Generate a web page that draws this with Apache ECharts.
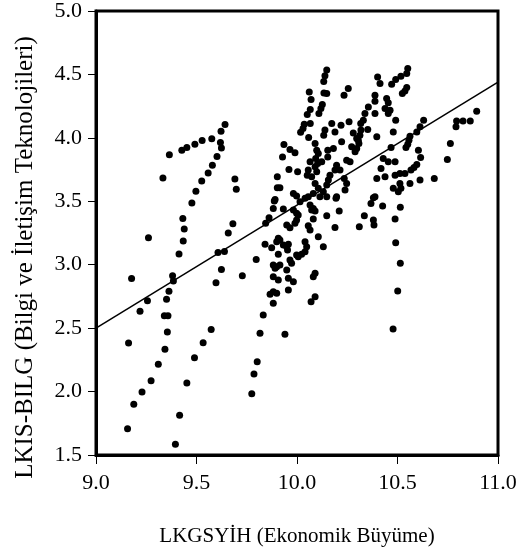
<!DOCTYPE html>
<html>
<head>
<meta charset="utf-8">
<script src="https://cdn.jsdelivr.net/npm/echarts@6/dist/echarts.min.js"></script>
<style>
html,body{margin:0;padding:0;background:#fff;}
#chart{width:522px;height:557px;}
</style>
</head>
<body>
<div id="chart"></div>
<script>
// Axis settings / labels
const xTitle = "LKGSYİH (Ekonomik Büyüme)";
const yTitle = "LKIS-BILG (Bilgi ve İletişim Teknolojileri)";
const xTicks = [9.0, 9.5, 10.0, 10.5, 11.0];
const yTicks = [1.5, 2.0, 2.5, 3.0, 3.5, 4.0, 4.5, 5.0];

// Fitted regression line end points
const fitX = [9.0, 11.0];
const fitY = [2.50, 4.44];

// Observations: LKGSYİH (x) and LKIS-BILG (y)
const obsX = [
 9.642,9.622,9.619,9.624,9.576,9.528,9.492,9.452,9.427,9.365,9.333,9.602,9.579,9.558,9.526,9.497,9.477,9.432,9.439,9.434,9.413,9.261,9.691,9.698,9.681,9.658,9.607,9.639,9.624,9.728,9.797,9.381,9.177,
 9.385,9.363,9.351,9.256,9.219,9.340,9.358,9.355,9.162,9.343,9.310,9.274,9.229,9.188,9.157,9.416,9.395,9.452,9.490,9.533,9.573,9.597,
 9.816,9.940,9.802,9.786,9.775,
 10.148,10.139,10.133,10.061,10.134,10.070,10.126,10.119,10.109,10.066,10.051,10.036,10.066,10.030,10.018,10.139,10.133,10.058,10.090,10.098,10.106,10.093,10.103,10.090,10.098,9.935,9.965,9.990,9.928,10.153,10.153,10.065,10.123,9.960,10.003,10.056,10.051,9.902,9.902,9.915,9.982,9.998,10.073,10.090,10.106,10.081,10.131,10.114,10.148,9.891,
 10.148,10.401,10.413,10.471,10.491,10.517,10.546,10.551,10.524,10.537,10.546,10.255,10.234,10.388,10.388,10.355,10.338,10.330,10.317,10.388,10.446,10.454,10.438,10.454,10.463,10.491,10.259,10.219,10.173,10.318,10.313,10.297,10.280,10.352,10.189,10.397,10.479,10.222,10.181,
 10.272,10.297,10.308,10.289,10.305,10.247,10.264,10.197,10.189,10.429,10.454,10.488,10.468,10.418,10.397,10.438,10.488,10.512,10.537,10.512,10.517,10.504,10.479,10.388,10.197,10.239,10.247,10.235,10.214,10.164,10.156,10.148,
 10.630,10.612,10.596,10.562,10.557,10.551,10.542,10.604,10.615,10.596,10.582,10.567,10.562,10.612,10.683,10.748,10.763,10.791,10.794,10.826,10.862,10.894,
 9.887,9.882,9.932,10.015,10.040,10.056,9.982,9.998,10.006,10.065,10.081,10.090,10.073,10.148,10.081,9.861,9.844,9.949,9.965,9.990,9.998,10.056,10.065,10.106,10.131,9.907,9.899,9.915,9.841,9.874,9.932,9.949,9.957,10.040,10.048,10.040,10.023,10.006,9.998,9.907,9.953,9.965,9.973,9.882,9.899,9.915,9.891,9.949,9.882,9.907,9.957,9.982,10.090,10.081,9.957,9.866,9.882,9.899,9.882,10.090,10.070,9.832,
 10.194,10.380,10.368,10.426,10.514,10.210,10.189,10.335,10.380,10.383,10.310,10.488,10.491,10.514,10.501,10.478
];
const obsY = [
 4.106,4.053,3.964,3.921,3.992,3.979,3.950,3.924,3.903,3.866,3.683,3.854,3.785,3.722,3.659,3.580,3.486,3.365,3.281,3.186,3.084,3.212,3.675,3.594,3.323,3.250,3.097,3.105,2.963,2.913,3.042,2.913,2.892,
 2.871,2.790,2.727,2.716,2.634,2.597,2.597,2.469,2.382,2.333,2.215,2.086,1.996,1.900,1.707,1.813,1.584,2.068,2.267,2.385,2.490,2.857,
 2.460,2.452,2.235,2.139,1.982,
 4.534,4.489,4.444,4.362,4.354,4.302,4.263,4.231,4.192,4.224,4.184,4.108,4.113,4.074,4.045,4.061,4.021,4.003,3.956,3.903,3.877,3.838,3.798,3.772,3.732,3.948,3.909,3.882,3.850,3.903,3.850,3.811,3.811,3.751,3.732,3.746,3.706,3.693,3.606,3.606,3.562,3.541,3.693,3.641,3.602,3.562,3.575,3.535,3.535,3.515,
 4.350,4.480,4.428,4.423,4.460,4.486,4.507,4.546,4.350,4.370,4.397,4.389,4.336,4.336,4.289,4.244,4.192,4.139,4.113,4.192,4.310,4.276,4.231,4.192,4.218,4.139,4.126,4.100,4.113,4.061,4.021,3.995,4.039,4.066,4.047,4.008,4.047,3.969,3.917,
 3.929,3.917,3.956,3.890,3.982,3.824,3.811,3.785,3.746,3.838,3.811,3.811,3.924,3.759,3.680,3.693,3.706,3.719,3.719,3.641,3.602,3.575,3.602,3.535,3.535,3.588,3.641,3.680,3.746,3.706,3.667,3.628,
 4.139,4.087,4.047,4.013,3.982,3.950,3.924,3.903,3.846,3.790,3.767,3.746,3.641,3.667,3.680,3.830,3.956,4.087,4.132,4.132,4.132,4.210,
 3.502,3.444,3.439,3.496,3.523,3.535,3.431,3.405,3.391,3.470,3.444,3.423,3.431,3.386,3.360,3.370,3.326,3.313,3.291,3.326,3.352,3.307,3.273,3.220,3.142,3.208,3.181,3.194,3.161,3.134,3.155,3.142,3.161,3.181,3.142,3.102,3.082,3.063,3.076,3.082,3.116,3.037,3.011,2.998,2.984,2.998,2.972,2.958,2.906,2.880,2.893,2.866,2.932,2.906,2.801,2.767,2.787,2.775,2.696,2.748,2.709,2.604,
 3.523,3.528,3.483,3.462,3.452,3.423,3.294,3.386,3.352,3.313,3.299,3.360,3.173,3.011,2.793,2.494
];

const points = obsX.map((x, i) => [x, obsY[i]]);
const fitLine = fitX.map((x, i) => [x, fitY[i]]);

const FONT = "Liberation Serif";
const chart = echarts.init(document.getElementById('chart'), null, {renderer: 'canvas'});
chart.setOption({
  animation: false,
  backgroundColor: '#fff',
  grid: {left: 96, right: 24, top: 11, bottom: 102, show: true, borderColor: '#000', borderWidth: 3, backgroundColor: 'transparent'},
  xAxis: {
    type: 'value', min: xTicks[0], max: xTicks[xTicks.length - 1], interval: 0.5,
    name: xTitle, nameLocation: 'middle', nameGap: 71,
    nameTextStyle: {fontFamily: FONT, fontSize: 21, color: '#000'},
    axisLine: {show: true, lineStyle: {color: '#000', width: 3}},
    axisTick: {show: true, inside: false, length: 9, lineStyle: {color: '#000', width: 1}},
    axisLabel: {margin: 17, fontFamily: FONT, fontSize: 22, color: '#000', formatter: v => v.toFixed(1), showMinLabel: true, showMaxLabel: true},
    splitLine: {show: false}
  },
  yAxis: {
    type: 'value', min: yTicks[0], max: yTicks[yTicks.length - 1], interval: 0.5,
    name: yTitle, nameLocation: 'middle', nameGap: 58, nameRotate: 90,
    nameTextStyle: {fontFamily: FONT, fontSize: 25, color: '#000', padding: [0, 49, 0, 0]},
    axisLine: {show: true, lineStyle: {color: '#000', width: 3}},
    axisTick: {show: true, inside: false, length: 8, lineStyle: {color: '#000', width: 1}},
    axisLabel: {margin: 14, fontFamily: FONT, fontSize: 22, color: '#000', formatter: v => v.toFixed(1), showMinLabel: true, showMaxLabel: true},
    splitLine: {show: false}
  },
  series: [
    {type: 'scatter', data: points, symbol: 'circle', symbolSize: 7, itemStyle: {color: '#000', opacity: 1}, z: 3},
    {type: 'line', data: fitLine, symbol: 'none', lineStyle: {color: '#000', width: 1.5}, z: 2}
  ]
});
</script>
</body>
</html>
